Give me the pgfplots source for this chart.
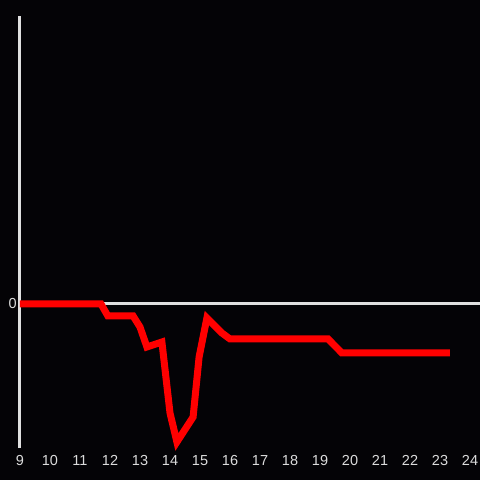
\documentclass[border=0pt]{standalone}
\usepackage{pgfplots}
\pgfplotsset{compat=1.18}
\usepackage{fontspec}
\setmainfont{Liberation Sans}
\definecolor{bg}{RGB}{4,3,6}
\definecolor{axc}{RGB}{224,224,224}
\definecolor{lbl}{RGB}{220,220,220}
\begin{document}
\begin{tikzpicture}
\fill[bg] (-20bp,-32bp) rectangle (460bp,448bp);
\begin{axis}[
  scale only axis,
  width=460bp, height=432bp,
  xmin=9, xmax=24.333,
  ymin=-14.4, ymax=28.8,
  axis x line*=bottom,
  axis y line*=left,
  x axis line style={draw=none},
  y axis line style={draw=axc, line width=3bp, -},
  xtick={9,10,...,24},
  ytick={0},
  major tick length=0pt,
  tick style={draw=none},
  xticklabel style={font=\fontsize{14.5bp}{16bp}\selectfont, text=lbl, anchor=north, inner sep=0pt, yshift=-7bp},
  yticklabel style={font=\fontsize{14.5bp}{16bp}\selectfont, text=lbl, anchor=east, inner sep=0pt, xshift=-3bp},
  /pgf/number format/assume math mode=true,
  clip=false,
]
\addplot[draw=axc, line width=3bp] coordinates {(9.05,0) (24.333,0)};
\addplot[draw=red, line width=7bp] coordinates {
(9,0) (11.7,0) (11.93,-1.2) (12.77,-1.2) (13.0,-2.3) (13.23,-4.3)
(13.73,-3.8) (14.0,-10.9) (14.23,-13.8) (14.77,-11.3) (14.97,-5.3)
(15.23,-1.4) (15.73,-2.9) (16.0,-3.5) (19.27,-3.5) (19.73,-4.9) (23.33,-4.9)
};
\end{axis}
\pgfresetboundingbox
\useasboundingbox (-20bp,-32bp) rectangle (460bp,448bp);
\end{tikzpicture}
\end{document}
